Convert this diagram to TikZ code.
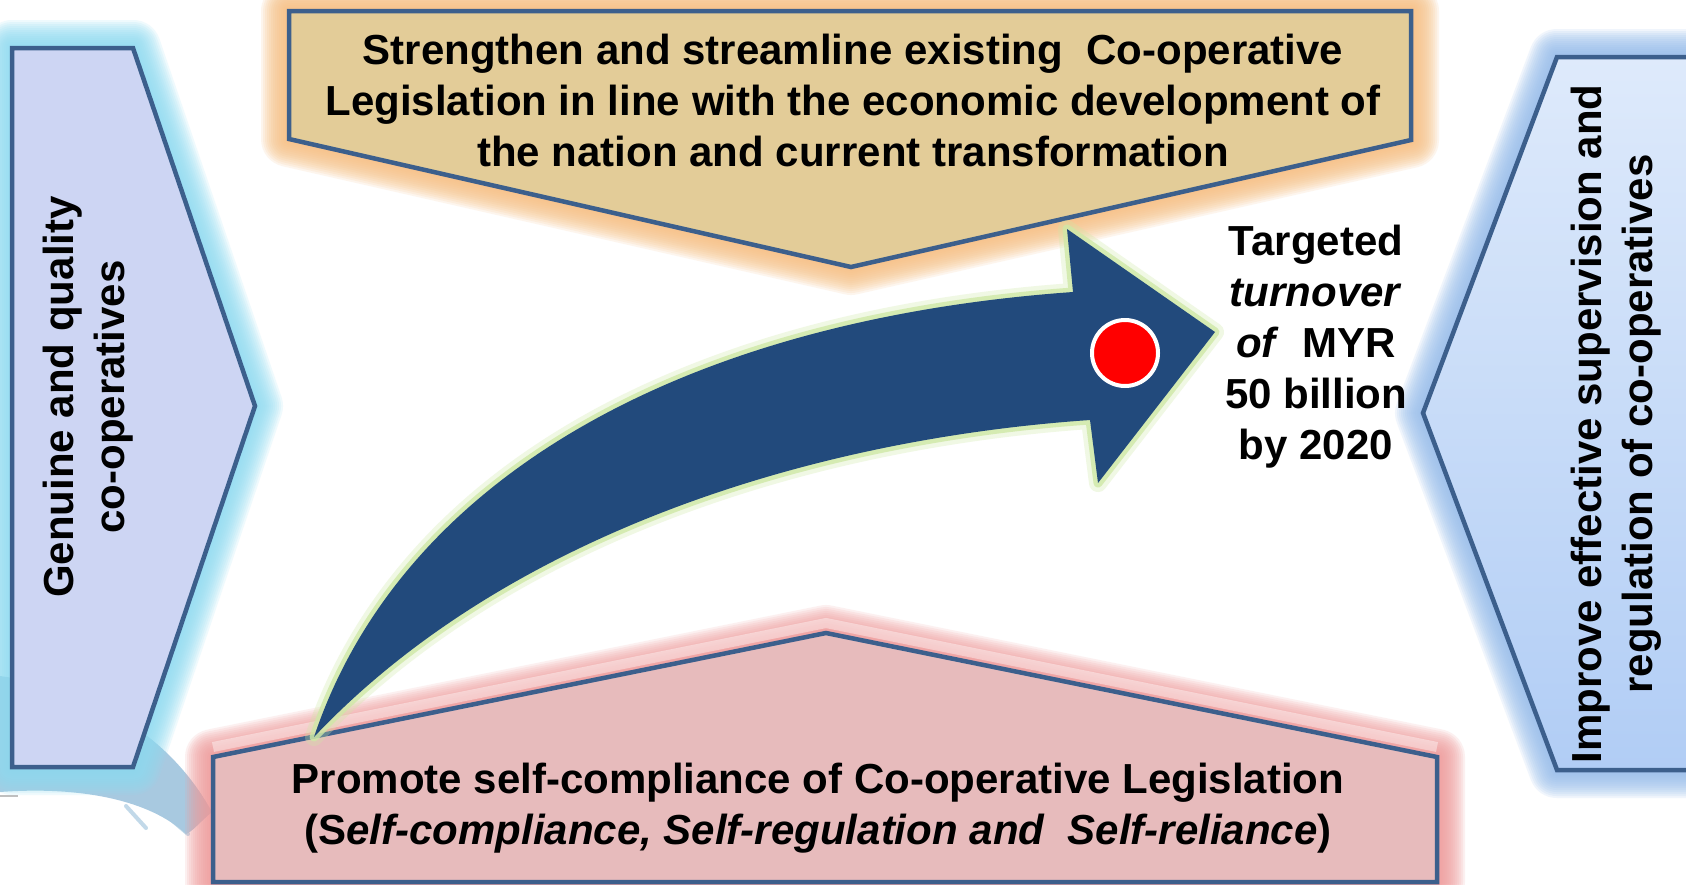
\documentclass[tikz,border=0pt]{standalone}
\usepackage{fontspec}
\setmainfont{Liberation Sans}
\definecolor{bordc}{HTML}{3C5F8C}
\definecolor{leftfill}{HTML}{CDD5F3}
\definecolor{leftglow}{HTML}{8FDCF2}
\definecolor{topfill}{HTML}{E3CC98}
\definecolor{topglow}{HTML}{F7BE80}
\definecolor{botfill}{HTML}{E7BBBC}
\definecolor{botglow}{HTML}{F09A9A}
\definecolor{rtop}{HTML}{DEEAFB}
\definecolor{rbot}{HTML}{B1CDF5}
\definecolor{rglow}{HTML}{97BDEC}
\definecolor{arrowc}{HTML}{224A7C}
\definecolor{arrowglow}{HTML}{CFE8A6}
\definecolor{swooshc}{HTML}{6FA6CC}
\tikzset{
  pentborder/.style={draw=bordc, line width=4.5pt, line join=miter},
  bigtext/.style={font=\fontsize{42}{51}\selectfont\bfseries, align=center, inner sep=0pt},
  glowstroke/.style={draw=#1, opacity=0.14, line join=round},
}
\newcommand{\glowof}[2]{%
  \foreach \w in {56,52,...,4} {\path[glowstroke=#2, line width=\w pt] #1;}}
\begin{document}
\begin{tikzpicture}[x=1pt,y=-1pt]
\path[use as bounding box, fill=white] (0,0) rectangle (1686,884);
\clip (0,0) rectangle (1686,884);

% background brush swoosh
\fill[swooshc, opacity=0.6] (0,676) .. controls (90,688) and (170,735) .. (212,812)
   .. controls (200,822) and (192,832) .. (186,834)
   .. controls (150,800) and (80,786) .. (0,792) -- cycle;
\draw[swooshc!60!white, line width=4pt, opacity=0.7, line cap=round] (126,806) -- (146,828);
\draw[swooshc!60!white, line width=4pt, opacity=0.7, line cap=round] (160,810) -- (188,834);
\draw[gray!50, line width=2pt] (0,796) -- (18,796);

% left pentagon
\def\leftpath{(12,48) -- (133,48) -- (255,406) -- (133,767) -- (12,767) -- cycle}
\glowof{\leftpath}{leftglow}
\path[fill=leftfill] \leftpath;
\path[pentborder] \leftpath;

% top pentagon
\def\toppath{(289,11) -- (1411,11) -- (1411,140) -- (851,267) -- (289,139) -- cycle}
\glowof{\toppath}{topglow}
\path[fill=topfill] \toppath;
\path[pentborder] \toppath;

% bottom pentagon
\def\botpath{(826,633) -- (1437,757) -- (1437,882) -- (213,882) -- (213,757) -- cycle}
\glowof{\botpath}{botglow}
\path[fill=botfill] \botpath;
\draw[white, opacity=0.4, line width=10pt] (213,747) -- (826,623) -- (1437,747);
\path[pentborder] \botpath;

% right pentagon
\def\rightpath{(1423,413) -- (1557,57) -- (1720,57) -- (1720,770) -- (1557,770) -- cycle}
\glowof{\rightpath}{rglow}
\path[top color=rtop, bottom color=rbot] \rightpath;
\path[pentborder] \rightpath;

% curved arrow
\def\arrowpath{(314,737) .. controls (400,480) and (680,320) .. (1073,292)
   -- (1067,229) -- (1215,332) -- (1098,483) -- (1090,420)
   .. controls (800,440) and (500,540) .. (314,737) -- cycle}
\path[draw=arrowglow, line width=18pt, opacity=0.3, line join=round] \arrowpath;
\path[draw=arrowglow, line width=9pt, opacity=0.8, line join=round] \arrowpath;
\path[fill=arrowc] \arrowpath;
\node[circle, fill=red, draw=white, line width=4pt, minimum size=66pt, inner sep=0pt] (dot) at (1125,353) {};

% texts
\node[bigtext] (toptext) at (853,100) {Strengthen and streamline existing\ \ Co-operative\\Legislation in line with the economic development of\\the nation and current transformation};
\node[bigtext] (target) at (1316,347) {Targeted\\\textit{turnover}\\\textit{of}\ \ MYR\\50 billion\\by 2020};
\node[bigtext] (bottext) at (818,808) {Promote self-compliance of Co-operative Legislation\\(S\textit{elf-compliance, Self-regulation and\ \ Self-reliance})};
\node[bigtext, rotate=90] (lefttext) at (88,397) {Genuine and quality\\co-operatives};
\node[bigtext, rotate=90] (righttext) at (1616,424) {Improve effective supervision and\\regulation of co-operatives};
\end{tikzpicture}
\end{document}
